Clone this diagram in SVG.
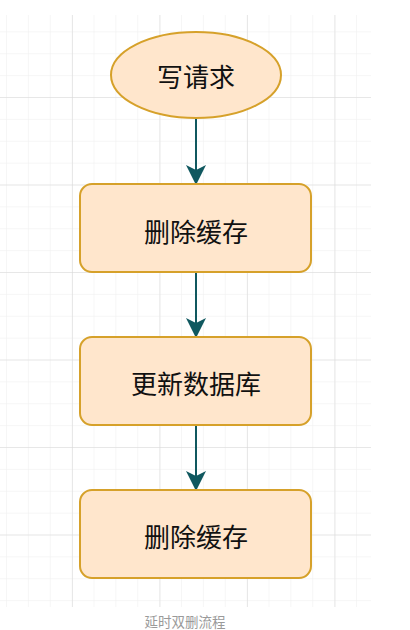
<svg xmlns="http://www.w3.org/2000/svg" width="410" height="630" viewBox="0 0 410 630">
  <defs>
    <pattern id="minor" x="6" y="9.5" width="21.875" height="21.875" patternUnits="userSpaceOnUse">
      <path d="M0 0 V21.875 M0 0 H21.875" fill="none" stroke="#eeeeee" stroke-width="1"/>
    </pattern>
    <pattern id="major" x="-15.5" y="9.5" width="87.5" height="87.5" patternUnits="userSpaceOnUse">
      <path d="M0 0 V87.5 M0 0 H87.5" fill="none" stroke="#d8d8d8" stroke-width="1"/>
    </pattern>
    <marker id="arrow" viewBox="0 0 20 20" refX="19" refY="10" markerWidth="20" markerHeight="20" markerUnits="userSpaceOnUse" orient="auto">
      <path d="M0 0 L20 10 L0 20 L5 10 Z" fill="#10585f"/>
    </marker>
    <style>
      .shape { fill: #ffe6cc; stroke: #d6a12a; stroke-width: 2; }
      .label { font-family: "Noto Sans CJK SC", "Noto Sans", sans-serif; font-size: 26px; fill: #111; text-anchor: middle; dominant-baseline: central; }
      .edge { stroke: #10585f; stroke-width: 2; fill: none; marker-end: url(#arrow); }
      .caption { font-family: "Noto Sans CJK SC", "Noto Sans", sans-serif; font-size: 13.5px; fill: #9a9a9a; text-anchor: middle; }
    </style>
  </defs>
  <rect width="410" height="630" fill="#ffffff"/>
  <g id="grid">
    <rect x="0" y="15" width="371" height="592" fill="url(#minor)"/>
    <rect x="0" y="15" width="371" height="592" fill="url(#major)"/>
  </g>
  <g id="connectors">
    <line class="edge" x1="196" y1="118" x2="196" y2="184"/>
    <line class="edge" x1="196" y1="272" x2="196" y2="337"/>
    <line class="edge" x1="196" y1="425" x2="196" y2="490"/>
  </g>
  <g id="node-write">
    <ellipse class="shape" cx="196" cy="75" rx="85" ry="43"/>
    <text class="label" x="196" y="75">写请求</text>
  </g>
  <g id="node-delete1">
    <rect class="shape" x="80" y="184" width="231" height="88" rx="12"/>
    <text class="label" x="196" y="230">删除缓存</text>
  </g>
  <g id="node-update">
    <rect class="shape" x="80" y="337" width="231" height="88" rx="12"/>
    <text class="label" x="196" y="382">更新数据库</text>
  </g>
  <g id="node-delete2">
    <rect class="shape" x="80" y="490" width="231" height="88" rx="12"/>
    <text class="label" x="196" y="535">删除缓存</text>
  </g>
  <text class="caption" x="185" y="627">延时双删流程</text>
</svg>
